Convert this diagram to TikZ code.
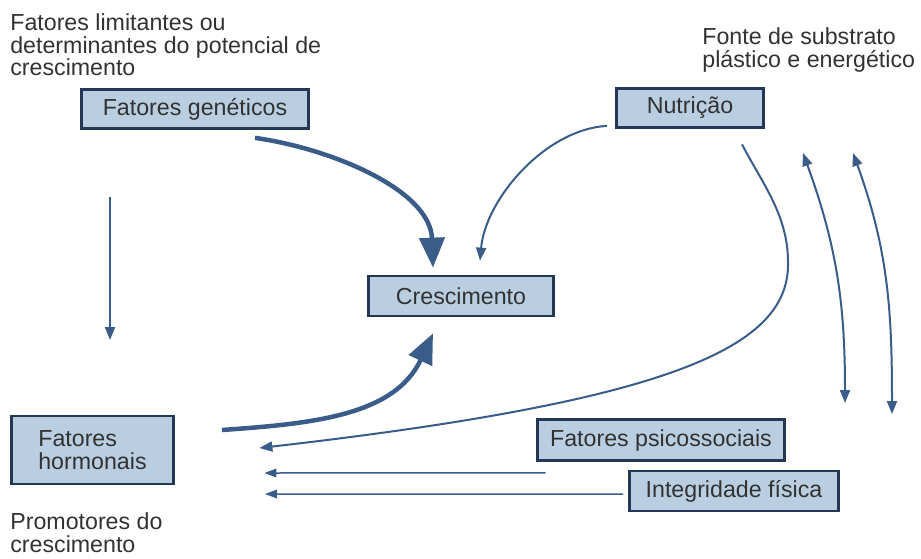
\documentclass[tikz,border=0pt]{standalone}
\usepackage{fontspec}
\setmainfont{Liberation Sans}
\usetikzlibrary{arrows.meta}
\definecolor{boxcolor}{RGB}{186,206,225}
\definecolor{edgecolor}{RGB}{36,56,86}
\definecolor{arrowcolor}{RGB}{58,92,136}
\definecolor{textcolor}{RGB}{50,50,50}
\tikzstyle{factor} = [rectangle, minimum height=0.78cm,
                      text centered, draw=edgecolor, fill=boxcolor,
                      text=textcolor, line width=0.55mm,
                      font=\fontsize{13.2}{13}\selectfont]
\tikzstyle{note} = [align=left, anchor=north west, inner sep=0pt,
                    text=textcolor, font=\fontsize{13.2}{13}\selectfont]
\tikzstyle{arrow} = [draw=arrowcolor, line width=0.4mm,
                     -{Triangle[length=2.6mm,width=2mm]}]
\tikzstyle{thinarrow} = [draw=arrowcolor, line width=0.3mm,
                         -{Triangle[length=2.4mm,width=1.7mm]}]
\tikzstyle{bigarrow} = [draw=arrowcolor, line width=0.9mm,
                        -{Triangle[length=6mm,width=5mm]}]
\tikzstyle{twoway} = [draw=arrowcolor, line width=0.4mm,
                      {Triangle[length=2.6mm,width=2mm]}-{Triangle[length=2.6mm,width=2mm]}]

\begin{document}
\begin{tikzpicture}
        \useasboundingbox (0,0) rectangle (18.42,11.16);

        %Notes
        \node (LimitNote) [note] at (0.2,10.90) {Fatores limitantes ou\\determinantes do potencial de\\crescimento};
        \node (SourceNote) [note] at (14.04,10.62) {Fonte de substrato\\plástico e energético};
        \node (PromoNote) [note] at (0.2,0.92) {Promotores do\\crescimento};

        %Factors
        \node (Genetic) [factor, minimum width=4.54cm] at (3.90,8.98) {Fatores genéticos};
        \node (Nutrition) [factor, minimum width=2.94cm] at (13.80,9.00) {Nutrição};
        \node (Growth) [factor, minimum width=3.70cm, minimum height=0.80cm] at (9.22,5.24) {Crescimento};
        \node (Hormonal) [factor, align=left, minimum width=3.24cm, minimum height=1.36cm] at (1.85,2.16) {Fatores\\hormonais};
        \node (Psycho) [factor, minimum width=4.94cm, minimum height=0.82cm] at (13.22,2.36) {Fatores psicossociais};
        \node (Integrity) [factor, minimum width=4.18cm, minimum height=0.80cm] at (14.68,1.34) {Integridade física};

        %Free ends
        \coordinate (GenDown) at (2.20,7.22);
        \coordinate (HorUp) at (2.20,4.36);
        \coordinate (LeftTop) at (16.06,8.10);
        \coordinate (LeftBottom) at (16.90,3.10);
        \coordinate (RightTop) at (17.06,8.10);
        \coordinate (RightBottom) at (17.84,2.88);

        %Genetic and hormonal to growth
        \draw [bigarrow] ([xshift=1.2cm,yshift=-0.16cm]Genetic.south) to[out=-8, in=92, looseness=0.9] ([xshift=-0.56cm,yshift=0.14cm]Growth.north);
        \draw [bigarrow] ([xshift=0.94cm,yshift=0.4cm]Hormonal.east) to[out=4, in=245] ([xshift=-0.56cm,yshift=-0.32cm]Growth.south);
        \draw [arrow] (GenDown) -- (HorUp);

        %Nutrition to growth and to hormonal
        \draw [arrow] ([xshift=-0.16cm,yshift=0.06cm]Nutrition.south west) to[out=183, in=85, looseness=0.85] ([xshift=0.38cm,yshift=0.28cm]Growth.north);
        \draw [arrow] ([xshift=1.04cm,yshift=-0.31cm]Nutrition.south)
              .. controls (15.24,7.50) and (15.76,6.86) .. (15.76,5.92)
              .. controls (15.80,4.26) and (13.60,3.16) .. ([xshift=1.69cm,yshift=0.04cm]Hormonal.east);

        %Two way arrows
        \draw [twoway] (LeftTop) to[out=-70, in=90] (LeftBottom);
        \draw [twoway] (RightTop) to[out=-70, in=90] (RightBottom);

        %Lines to hormonal
        \draw [thinarrow] ([xshift=0.19cm,yshift=-0.22cm]Psycho.south west) -- ([xshift=1.79cm,yshift=-0.46cm]Hormonal.east);
        \draw [thinarrow] ([xshift=-0.10cm,yshift=-0.06cm]Integrity.west) -- ([xshift=1.80cm,yshift=-0.88cm]Hormonal.east);

\end{tikzpicture}
\end{document}
